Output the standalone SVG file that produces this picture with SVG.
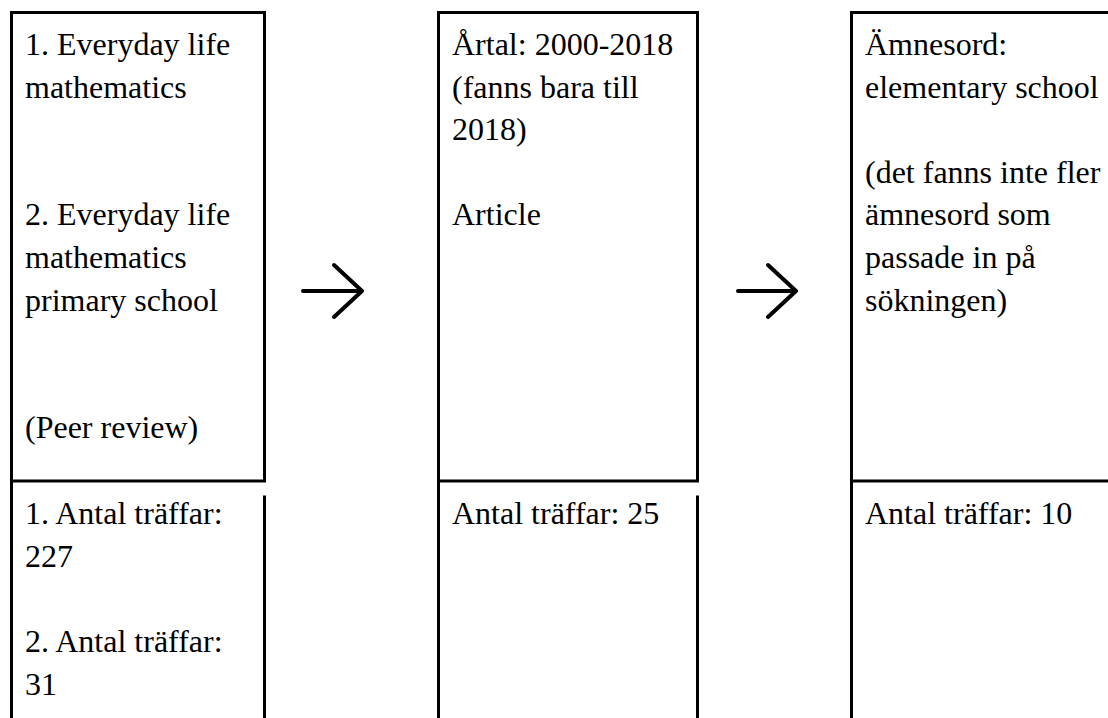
<svg xmlns="http://www.w3.org/2000/svg" width="1108" height="718" viewBox="0 0 1108 718">
<style>
.b{fill:none;stroke:#000;stroke-width:3;stroke-linecap:square}
.t{font-size:32px;fill:#000}
.a{fill:none;stroke:#000;stroke-width:4;stroke-linecap:round;stroke-linejoin:round}
</style>
<rect width="1108" height="718" fill="#fff"/>
<g id="node1" font-family="Liberation Serif, DejaVu Serif, serif">
<path class="b" d="M11.5,12.5 V718 M11.5,12.5 H264.5 V481 M11.5,481 H264.5 M264.5,497 V718"/>
<text class="t" x="25" y="55">1. Everyday life</text>
<text class="t" x="25" y="97.6">mathematics</text>
<text class="t" x="25" y="225.4">2. Everyday life</text>
<text class="t" x="25" y="268">mathematics</text>
<text class="t" x="25" y="310.6">primary school</text>
<text class="t" x="25" y="438.4">(Peer review)</text>
<text class="t" x="25" y="524">1. Antal träffar:</text>
<text class="t" x="25" y="566.8">227</text>
<text class="t" x="25" y="652.4">2. Antal träffar:</text>
<text class="t" x="25" y="695.2">31</text>
</g>
<g id="node2" font-family="Liberation Serif, DejaVu Serif, serif">
<path class="b" d="M438.5,12.5 V718 M438.5,12.5 H697.5 V481 M438.5,481 H697.5 M697.5,497 V718"/>
<text class="t" x="452" y="55">Årtal: 2000-2018</text>
<text class="t" x="452" y="97.6">(fanns bara till</text>
<text class="t" x="452" y="140.2">2018)</text>
<text class="t" x="452" y="225.4">Article</text>
<text class="t" x="452" y="524">Antal träffar: 25</text>
</g>
<g id="node3" font-family="Liberation Serif, DejaVu Serif, serif">
<path class="b" d="M851.5,12.5 V718 M851.5,12.5 H1110 M851.5,481 H1110"/>
<text class="t" x="865" y="55">Ämnesord:</text>
<text class="t" x="865" y="97.6">elementary school</text>
<text class="t" x="865" y="182.8">(det fanns inte fler</text>
<text class="t" x="865" y="225.4">ämnesord som</text>
<text class="t" x="865" y="268">passade in på</text>
<text class="t" x="865" y="310.6">sökningen)</text>
<text class="t" x="865" y="524">Antal träffar: 10</text>
</g>
<g id="connectors">
<path class="a" d="M303,291 H362 M334,265 L362,291 L334,317"/>
<path class="a" d="M738,291 H796 M768,265 L796,291 L768,317"/>
</g>
</svg>
